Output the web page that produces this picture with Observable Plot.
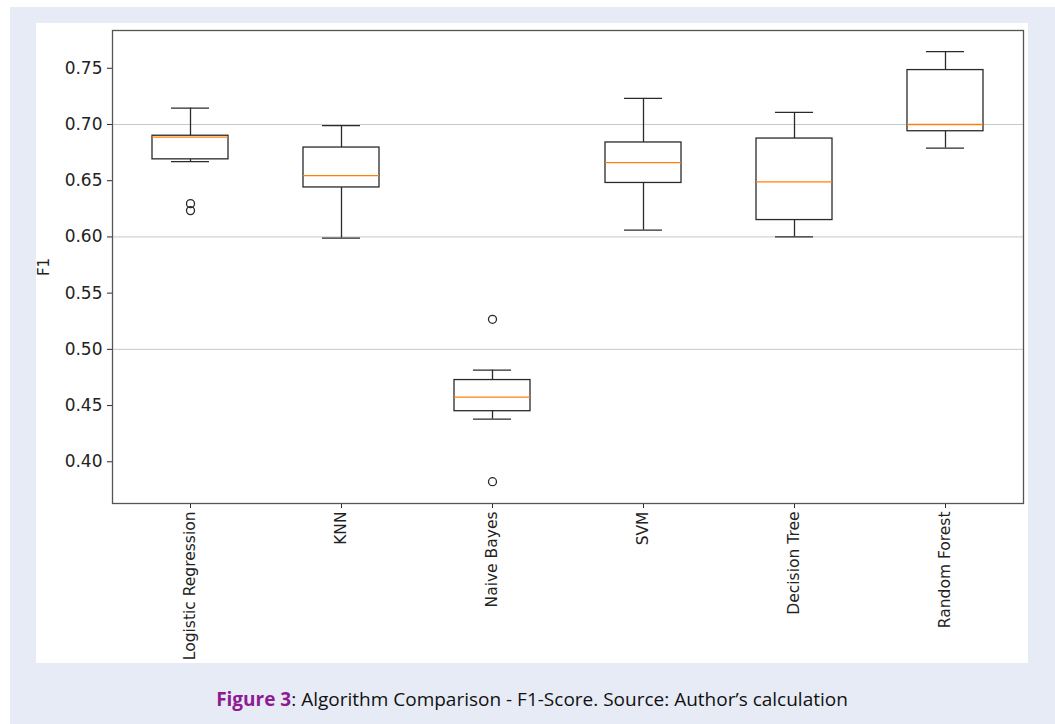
<!DOCTYPE html>
<html>
<head>
<meta charset="utf-8">
<script src="https://cdn.jsdelivr.net/npm/d3@7"></script>
<script src="https://cdn.jsdelivr.net/npm/@observablehq/plot@0.6"></script>
<style>
  html, body { margin: 0; padding: 0; background: #ffffff; }
  body { width: 1055px; height: 724px; position: relative; overflow: hidden; }
  #bg { position: absolute; left: 10px; top: 7px; right: 0; bottom: 0; background: #e7ebf6; }
  #panel { position: absolute; left: 36px; top: 23px; width: 992px; height: 640px; background: #ffffff; }
  #chart { position: absolute; left: 0; top: 0; }
  #caption { position: absolute; left: 0; width: 1064px; top: 686px; text-align: center;
             font-family: "Open Sans", "Noto Sans", sans-serif; font-size: 19px; color: #111; }
  #caption b { color: #8e1b93; font-weight: 700; }
</style>
</head>
<body>
<div id="bg"></div>
<div id="panel"></div>
<div id="chart"></div>
<div id="caption"><b>Figure 3</b>: Algorithm Comparison - F1-Score. Source: Author’s calculation</div>
<script>
const categories = ["Logistic Regression", "KNN", "Naive Bayes", "SVM", "Decision Tree", "Random Forest"];
const whiskerLow  = [0.667, 0.599, 0.438, 0.606, 0.600, 0.679];
const quartile1   = [0.669, 0.644, 0.445, 0.648, 0.615, 0.694];
const medians     = [0.6887, 0.6545, 0.4575, 0.666, 0.649, 0.700];
const quartile3   = [0.690, 0.6795, 0.4727, 0.684, 0.6875, 0.7484];
const whiskerHigh = [0.7145, 0.699, 0.4815, 0.7232, 0.7107, 0.7648];
const outlierCats   = ["Logistic Regression", "Logistic Regression", "Naive Bayes", "Naive Bayes"];
const outlierValues = [0.6296, 0.6234, 0.5267, 0.3823];
const yTicks = [0.40, 0.45, 0.50, 0.55, 0.60, 0.65, 0.70, 0.75];
const gridTicks = [0.50, 0.60, 0.70];
const yDomain = [0.3629, 0.7836];

const W = 1055, H = 662, ML = 112, MR = 32, MT = 30, MB = 159;
const step = (W - ML - MR) / categories.length;
const capInset = (step / 2) / 4;

const boxes = categories.map((c, i) => ({
  cat: c, lo: whiskerLow[i], q1: quartile1[i], med: medians[i], q3: quartile3[i], hi: whiskerHigh[i]
}));
const outliers = outlierCats.map((c, i) => ({cat: c, v: outlierValues[i]}));

const ink = "#2a2a2a";
const sw = 1.3;

const chart = Plot.plot({
  width: W, height: H,
  marginLeft: ML, marginRight: MR, marginTop: MT, marginBottom: MB,
  style: {background: "transparent", fontFamily: "DejaVu Sans", fontSize: "15px", color: "#222"},
  x: {domain: categories, paddingInner: 0.5, paddingOuter: 0.25, label: null},
  y: {domain: yDomain, label: null},
  marks: [
    Plot.gridY(gridTicks, {stroke: "#c8c8c8", strokeOpacity: 1, strokeWidth: 1}),
    Plot.ruleX(boxes, {x: "cat", y1: "q3", y2: "hi", stroke: ink, strokeWidth: sw}),
    Plot.ruleX(boxes, {x: "cat", y1: "lo", y2: "q1", stroke: ink, strokeWidth: sw}),
    Plot.tickY(boxes, {x: "cat", y: "hi", stroke: ink, strokeWidth: sw, insetLeft: capInset, insetRight: capInset}),
    Plot.tickY(boxes, {x: "cat", y: "lo", stroke: ink, strokeWidth: sw, insetLeft: capInset, insetRight: capInset}),
    Plot.barY(boxes, {x: "cat", y1: "q1", y2: "q3", fill: "none", stroke: ink, strokeWidth: sw}),
    Plot.tickY(boxes, {x: "cat", y: "med", stroke: "#ff7f0e", strokeWidth: 1.3}),
    Plot.dot(outliers, {x: "cat", y: "v", r: 4, stroke: ink, strokeWidth: 1.3, fill: "none"}),
    Plot.axisY({ticks: yTicks, tickFormat: d3.format(".2f"), tickSize: 5, tickPadding: 5,
                stroke: ink, fontSize: 17, label: null}),
    Plot.axisY({ticks: [], tickSize: 0, label: "F1", labelArrow: "none", labelAnchor: "center",
                labelOffset: 74, fontSize: 15}),
    Plot.axisX({tickRotate: -90, tickSize: 5, tickPadding: 3, stroke: ink, fontSize: 15.5, label: null}),
    Plot.frame({stroke: "#555", strokeWidth: 1.3})
  ]
});
document.getElementById("chart").appendChild(chart);
</script>
</body>
</html>
